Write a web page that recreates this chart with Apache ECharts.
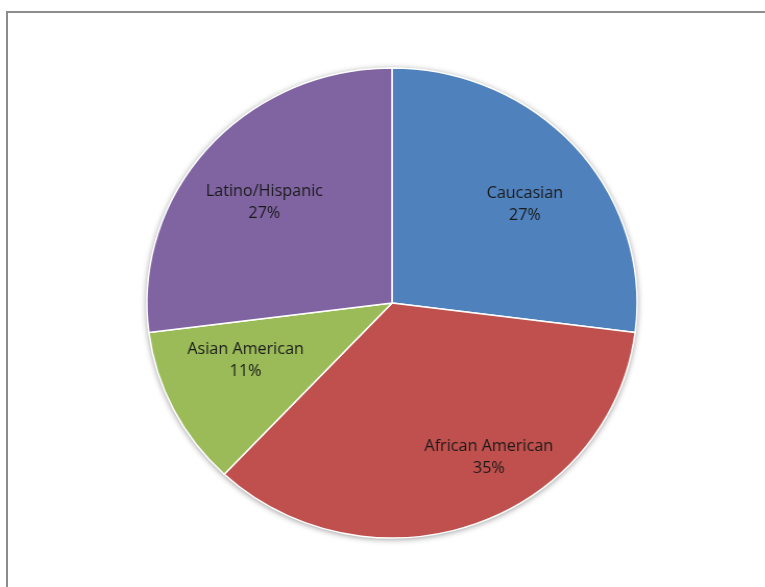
<!DOCTYPE html>
<html>
<head>
<meta charset="utf-8">
<script src="https://cdn.jsdelivr.net/npm/echarts@6/dist/echarts.min.js"></script>
<style>
  html, body { margin: 0; padding: 0; background: #fff; overflow: hidden; }
  #frame {
    position: absolute; left: 6px; top: 11px; width: 800px; height: 640px;
    border: 2px solid #8c8c8c; box-sizing: border-box;
  }
  #chart {
    position: absolute; left: 0; top: 0; width: 765px; height: 587px;
    /* the plot area is slightly wider than tall */
    transform: scaleX(1.043); transform-origin: 392px 303px;
  }
</style>
</head>
<body>
<div id="frame"></div>
<div id="chart"></div>
<script>
// Share of each group, clockwise from 12 o'clock
const groups = ['Caucasian', 'African American', 'Asian American', 'Latino/Hispanic'];
const shares = [27, 35, 11, 27];

const sliceColors = ['#4F81BD', '#C0504D', '#9BBB59', '#8064A2'];
// nudges from the sector midpoint so labels sit where the space is widest
const labelNudge = [[37, -19], [52, 41], [-33, 3], [-32, -21]];

const chart = echarts.init(document.getElementById('chart'), null, { renderer: 'canvas' });

const center = [392, 303];
const radius = 235;

chart.setOption({
  animation: false,
  series: [
    {
      // soft drop shadow beneath the whole pie
      type: 'pie',
      silent: true,
      center: center,
      radius: radius,
      z: 1,
      label: { show: false },
      labelLine: { show: false },
      itemStyle: {
        color: '#ffffff',
        shadowBlur: 6,
        shadowColor: 'rgba(0,0,0,0.45)',
        shadowOffsetY: 1
      },
      data: [{ value: 1, name: '' }]
    },
    {
      type: 'pie',
      center: center,
      radius: radius,
      startAngle: 90,
      clockwise: true,
      z: 2,
      itemStyle: { borderColor: '#ffffff', borderWidth: 1.5 },
      label: {
        show: true,
        position: 'inside',
        formatter: p => p.name + '\n' + p.value + '%',
        fontFamily: 'Open Sans',
        fontSize: 15.5,
        lineHeight: 22,
        color: '#1a1a1a',
        align: 'center'
      },
      labelLine: { show: false },
      labelLayout: p => ({ dx: labelNudge[p.dataIndex][0], dy: labelNudge[p.dataIndex][1] }),
      data: groups.map((g, i) => ({
        name: g,
        value: shares[i],
        itemStyle: { color: sliceColors[i] }
      }))
    }
  ]
});
</script>
</body>
</html>
